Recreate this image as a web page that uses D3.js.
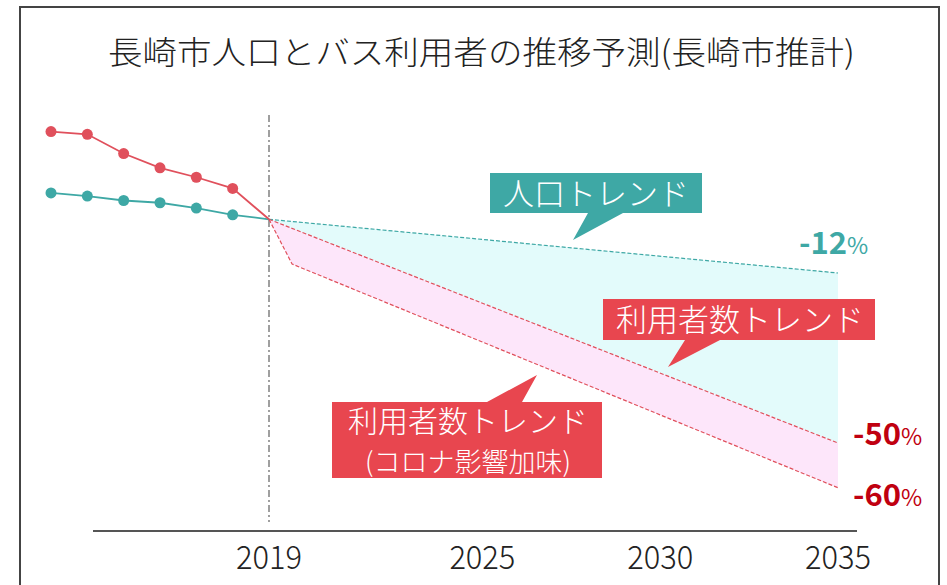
<!DOCTYPE html>
<html>
<head>
<meta charset="utf-8">
<script src="https://cdn.jsdelivr.net/npm/d3@7"></script>
<style>
  body { margin: 0; background: #fff; }
  svg { display: block; font-family: "Noto Sans CJK JP", "Noto Sans", sans-serif; }
</style>
</head>
<body>
<div id="chart"></div>
<script>
// -----------------------------------------------------------------------
//  Data (index, 2019 = 100)
// -----------------------------------------------------------------------
const histYears = [2013, 2014, 2015, 2016, 2017, 2018, 2019];
const popHist = [105.9, 105.2, 104.2, 103.7, 102.5, 101.0, 100];
const riderHist = [119.6, 119.0, 114.7, 111.5, 109.4, 106.9, 100];

const trendYears = [2019, 2035];
const popTrend = [100, 88];
const riderTrend = [100, 50];

const covidYears = [2019, 2019.65, 2035];
const covidTrend = [100, 90, 40];

const tickYears = [2019, 2025, 2030, 2035];
const pctLabels = [["-12", 88, "#3ea8a5"], ["-50", 50, "#c00010"], ["-60", 40, "#c00010"]];

// -----------------------------------------------------------------------
const width = 947, height = 585;
const teal = "#3ea8a5", red = "#e0505c", boxRed = "#e8464f";

const svg = d3.select("#chart").append("svg")
    .attr("width", width)
    .attr("height", height);

// frame
svg.append("rect")
    .attr("x", 20).attr("y", 7)
    .attr("width", 919).attr("height", 600)
    .attr("fill", "none")
    .attr("stroke", "#444")
    .attr("stroke-width", 2);

// title
svg.append("text")
    .attr("x", 108).attr("y", 64)
    .attr("textLength", 747)
    .attr("lengthAdjust", "spacingAndGlyphs")
    .attr("font-size", 32)
    .attr("font-weight", 300)
    .attr("fill", "#222")
    .text("長崎市人口とバス利用者の推移予測(長崎市推計)");

// scales
const x = d3.scaleLinear().domain([2013, 2019, 2035]).range([51, 269, 838]);
const y = d3.scaleLinear().domain([100, 50]).range([219.3, 443]);

const zip = (xs, ys) => xs.map((d, i) => [d, ys[i]]);
const line = d3.line().x(d => x(d[0])).y(d => y(d[1]));

// filled bands
const popPts = zip(trendYears, popTrend);
const riderPts = zip(trendYears, riderTrend);
const covidPts = zip(covidYears, covidTrend);

svg.append("path")
    .attr("d", line([...popPts, ...riderPts.slice().reverse()]) + "Z")
    .attr("fill", "#e3fbfb");

svg.append("path")
    .attr("d", line([...riderPts, ...covidPts.slice().reverse()]) + "Z")
    .attr("fill", "#fde6fa");

// 2019 marker
svg.append("line")
    .attr("x1", x(2019)).attr("x2", x(2019))
    .attr("y1", 115).attr("y2", 522)
    .attr("stroke", "#888")
    .attr("stroke-width", 1.6)
    .attr("stroke-dasharray", "7,3,2,3");

// x axis
const xAxis = svg.append("g")
    .attr("transform", "translate(0,531)");
xAxis.append("line")
    .attr("x1", 93).attr("x2", 857)
    .attr("stroke", "#555")
    .attr("stroke-width", 2);
xAxis.selectAll(".tick")
    .data(tickYears)
    .join("text")
    .attr("class", "tick")
    .attr("x", d => x(d) - 33)
    .attr("y", 38)
    .attr("textLength", 66)
    .attr("lengthAdjust", "spacingAndGlyphs")
    .attr("font-size", 33)
    .attr("font-weight", 300)
    .attr("fill", "#222")
    .text(d => d);

// projection lines (dashed)
[[popPts, teal], [riderPts, red], [covidPts, red]].forEach(([pts, c]) => {
    svg.append("path")
        .attr("d", line(pts))
        .attr("fill", "none")
        .attr("stroke", c)
        .attr("stroke-width", 1.2)
        .attr("stroke-dasharray", "4,2");
});

// history lines + dots
[[popHist, teal], [riderHist, red]].forEach(([vals, c]) => {
    const pts = zip(histYears, vals);
    svg.append("path")
        .attr("d", line(pts))
        .attr("fill", "none")
        .attr("stroke", c)
        .attr("stroke-width", 1.8);
    svg.selectAll(null)
        .data(pts.slice(0, -1))
        .join("circle")
        .attr("cx", d => x(d[0]))
        .attr("cy", d => y(d[1]))
        .attr("r", 5.5)
        .attr("fill", c);
});

// callouts
function callout(path, fill, lines) {
    svg.append("path").attr("d", path).attr("fill", fill);
    lines.forEach(l => {
        svg.append("text")
            .attr("x", l.x).attr("y", l.y)
            .attr("font-size", l.size)
            .attr("font-weight", 300)
            .attr("fill", "#fff")
            .attr("text-anchor", "middle")
            .text(l.t);
    });
}

callout("M490,173H702V213H623L573,240L588,213H490Z", teal,
    [{t: "人口トレンド", x: 596, y: 205, size: 31}]);

callout("M603,299H875V340H720L668,367L685,340H603Z", boxRed,
    [{t: "利用者数トレンド", x: 740, y: 331, size: 31}]);

callout("M332,402H487L537,375L522,402H602V478H332Z", boxRed,
    [{t: "利用者数トレンド", x: 468, y: 432, size: 30},
     {t: "(コロナ影響加味)", x: 468, y: 472, size: 27}]);

// percentage labels
pctLabels.forEach(([t, v, c]) => {
    const tx = svg.append("text")
        .attr("x", v === 88 ? 799 : 853)
        .attr("y", y(v) + (v === 88 ? -19 : v === 40 ? 18 : 2))
        .attr("fill", c);
    tx.append("tspan").attr("font-size", 31).attr("font-weight", 700).text(t);
    tx.append("tspan").attr("font-size", 23).attr("font-weight", 400).text("%");
});
</script>
</body>
</html>
